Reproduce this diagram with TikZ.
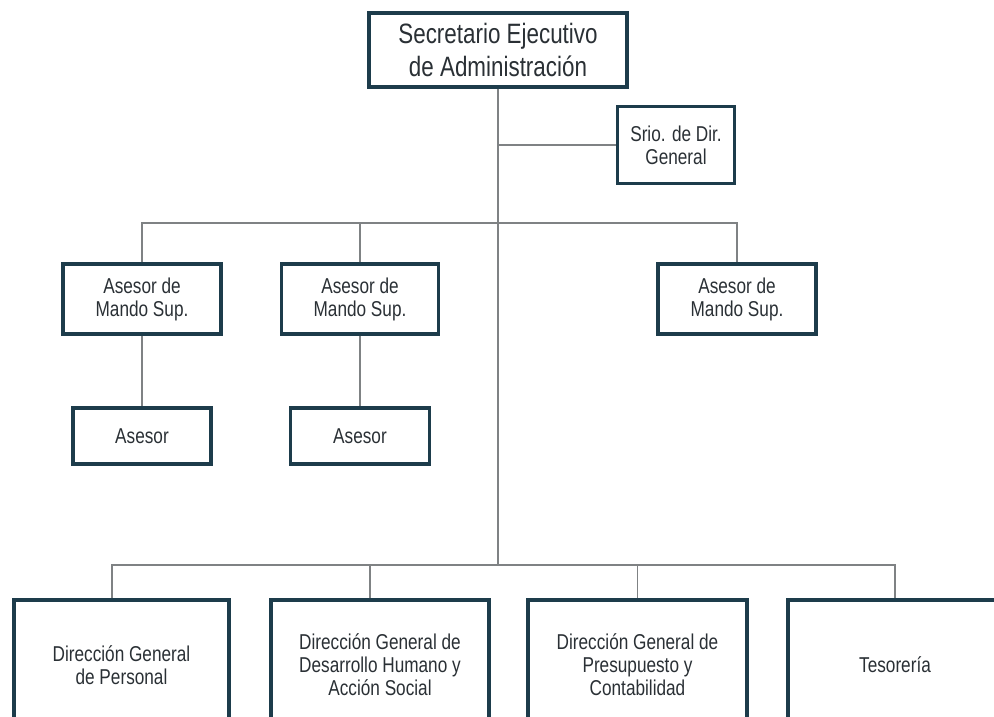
\documentclass[tikz,border=0pt]{standalone}
\usepackage{fontspec}
\setmainfont{Liberation Sans}[FakeStretch=0.8]
\definecolor{marco}{HTML}{1D3C4B}
\definecolor{linea}{HTML}{7F8284}
\definecolor{texto}{HTML}{2A3035}

\begin{document}
\begin{tikzpicture}[x=1pt, y=-1pt,
    caja/.style={draw=marco, line width=3.5pt, rectangle, fill=white, text=texto, align=center, inner sep=0pt,
      font=\fontsize{21.5}{23}\selectfont},
    conector/.style={draw=linea, line width=1.4pt}]
    \useasboundingbox (0,0) rectangle (994,717);
    \clip (0,0) rectangle (994,717);
    \node[caja, minimum width=258pt, minimum height=74pt, font=\fontsize{28}{33}\selectfont] (sea) at (498,50) {Secretario Ejecutivo\\de Administración};
    \node[caja, minimum width=117pt, minimum height=77pt] (srio) at (676,145) {Srio. de Dir.\\General};
    \node[caja, minimum width=158pt, minimum height=70pt] (ams1) at (142,299) {Asesor de\\Mando Sup.};
    \node[caja, minimum width=157pt, minimum height=70pt] (ams2) at (360,299) {Asesor de\\Mando Sup.};
    \node[caja, minimum width=158pt, minimum height=70pt] (ams3) at (737,299) {Asesor de\\Mando Sup.};
    \node[caja, minimum width=138pt, minimum height=56pt] (as1) at (142,436) {Asesor};
    \node[caja, minimum width=139pt, minimum height=56pt] (as2) at (360,436) {Asesor};
    \node[caja, minimum width=215pt, minimum height=130pt] (dg1) at (121.5,665) {Dirección General\\de Personal};
    \node[caja, minimum width=218pt, minimum height=130pt] (dg2) at (380,665) {Dirección General de\\Desarrollo Humano y\\Acción Social};
    \node[caja, minimum width=219pt, minimum height=130pt] (dg3) at (637.5,665) {Dirección General de\\Presupuesto y\\Contabilidad};
    \node[caja, minimum width=214pt, minimum height=130pt] (tes) at (895,665) {Tesorería};
    % lineas de mando
    \coordinate (busA) at (498,223);
    \coordinate (busB) at (498,565);
    \coordinate (b1) at (112,565);
    \coordinate (b2) at (370,565);
    \draw[conector] (sea.south) -- (busB);
    \draw[conector] (srio.west) -- (srio.west -| sea.south);
    \draw[conector] (ams1.north) |- (busA) -| (ams3.north);
    \draw[conector] (ams2.north) -- (ams2.north |- busA);
    \draw[conector] (ams1.south) -- (as1.north);
    \draw[conector] (ams2.south) -- (as2.north);
    \draw[conector] (dg1.north -| b1) |- (busB) -| (tes.north);
    \draw[conector] (dg2.north -| b2) -- (b2);
    \draw[conector] (dg3.north) -- (dg3.north |- busB);
\end{tikzpicture}
\end{document}
